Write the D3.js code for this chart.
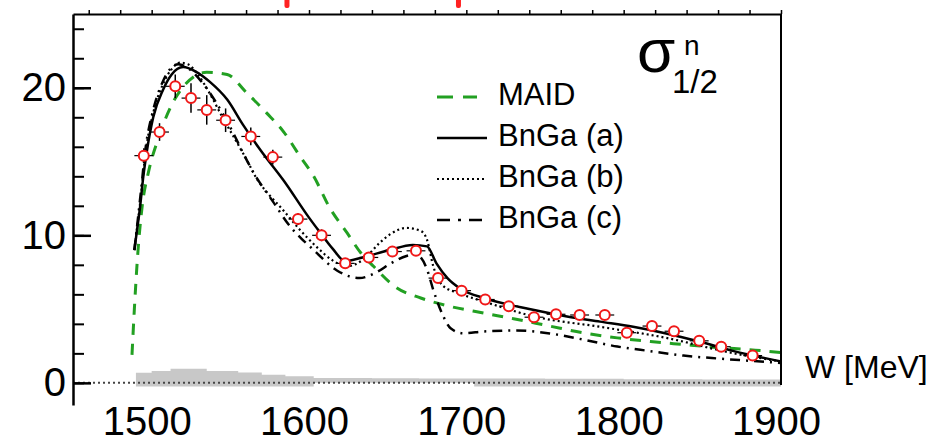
<!DOCTYPE html>
<html>
<head>
<meta charset="utf-8">
<script src="https://cdn.jsdelivr.net/npm/d3@7"></script>
<style>
  body { margin: 0; background: #fff; }
  svg { display: block; font-family: "Liberation Sans", Arial, Helvetica, sans-serif; }
</style>
</head>
<body>
<div id="container"></div>
<script>
// measured cross section sigma^n_1/2 (W in MeV)
const pointW = [1495, 1505, 1515, 1525, 1535, 1547, 1563, 1577, 1593, 1608, 1623, 1638, 1653, 1668,
  1682, 1697, 1712, 1727, 1743, 1757, 1772, 1788, 1802, 1818, 1832, 1848, 1862, 1882]
const pointS = [15.4, 17.0, 20.1, 19.3, 18.5, 17.8, 16.7, 15.3, 11.1, 10.0, 8.1, 8.5, 8.9, 8.95,
  7.1, 6.25, 5.65, 5.2, 4.45, 4.65, 4.6, 4.6, 3.4, 3.85, 3.5, 2.85, 2.45, 1.85]
const pointErr = [0.5, 0.6, 0.8, 1.0, 1.0, 0.8, 0.6, 0.5, 0.4, 0.4, 0.3, 0.3, 0.3, 0.3,
  0.3, 0.25, 0.25, 0.25, 0.2, 0.2, 0.2, 0.2, 0.2, 0.2, 0.2, 0.2, 0.2, 0.2]
const pointWErr = 6

// model curves
const maidW = [1487.5, 1489, 1491, 1494, 1498, 1504, 1513, 1522, 1535, 1548, 1560, 1573, 1584, 1594,
  1603, 1613, 1624, 1633, 1641, 1655, 1671, 1689, 1710, 1730, 1753, 1774, 1796, 1817, 1838, 1857, 1887, 1900]
const maidS = [1.9, 5.0, 8.5, 12.0, 14.3, 16.5, 18.9, 20.3, 21.05, 20.9, 19.7, 18.3, 17.0, 15.4,
  14.0, 11.9, 10.2, 8.8, 7.9, 6.5, 5.75, 5.2, 4.75, 4.35, 3.85, 3.4, 3.05, 2.8, 2.6, 2.42, 2.19, 2.05]

const bngaAW = [1489, 1490.5, 1492.6, 1494.7, 1496.8, 1501, 1507.4, 1512.7, 1520, 1528, 1537, 1548, 1558, 1569,
  1584, 1600, 1607, 1615, 1623, 1634, 1651, 1666, 1675, 1681, 1688, 1696, 1713, 1740, 1764, 1785, 1806, 1827, 1848, 1870, 1900]
const bngaAS = [9.0, 10.2, 11.9, 14.0, 15.6, 18.0, 19.9, 20.9, 21.4, 21.1, 20.4, 19.2, 17.5, 15.8,
  13.7, 11.2, 10.2, 9.1, 8.25, 8.5, 9.0, 9.35, 9.25, 8.1, 7.1, 6.4, 5.7, 5.0, 4.5, 4.15, 3.8, 3.35, 2.8, 2.15, 1.45]

const bngaBW = [1489, 1490.5, 1493, 1496, 1501, 1507, 1513, 1518, 1523, 1530, 1537, 1545, 1552, 1560, 1567,
  1575, 1582, 1594, 1605, 1615, 1624, 1635, 1645, 1652, 1662, 1671, 1675, 1679, 1685, 1696, 1713, 1743, 1785, 1827, 1870, 1900]
const bngaBS = [9.0, 10.3, 12.5, 15.5, 18.3, 20.2, 21.3, 21.7, 21.6, 20.8, 19.6, 18.0, 16.7, 15.2, 13.8,
  12.7, 11.9, 10.4, 9.2, 8.3, 7.9, 8.4, 9.5, 10.1, 10.5, 10.3, 9.7, 7.9, 6.6, 6.05, 5.45, 4.5, 3.8, 3.05, 2.0, 1.45]

const bngaCW = [1489, 1490.5, 1493, 1496, 1501, 1507, 1512, 1517, 1522, 1531, 1541, 1552, 1558, 1565, 1577,
  1588, 1595, 1603, 1618, 1632, 1643, 1652, 1662, 1668, 1675, 1679, 1685, 1690, 1698, 1711, 1732, 1753, 1775,
  1796, 1817, 1838, 1860, 1880, 1900]
const bngaCS = [9.0, 10.4, 12.8, 15.8, 18.5, 20.4, 21.3, 21.6, 21.4, 20.5, 19.0, 16.9, 15.6, 14.2, 12.3,
  10.6, 9.8, 9.0, 7.6, 7.1, 7.5, 8.1, 8.6, 8.7, 7.7, 6.3, 4.6, 3.7, 3.36, 3.48, 3.55, 3.35, 2.92,
  2.46, 2.15, 1.85, 1.65, 1.5, 1.35]

// systematic error band (step edges)
const bandW = [1490, 1500, 1512, 1535, 1555, 1570, 1585, 1603, 1640, 1670, 1705, 1750, 1800, 1850, 1900]
const bandTop = [0.68, 0.8, 0.95, 0.8, 0.7, 0.55, 0.45, 0.33, 0.32, 0.3, 0.3, 0.28, 0.25, 0.22, 0.22]
const bandBottom = [-0.25, -0.25, -0.25, -0.25, -0.25, -0.25, -0.25, 0, 0, 0, -0.25, -0.25, -0.25, -0.25, -0.25]

const xTickLabels = [1500, 1600, 1700, 1800, 1900]
const yTickLabels = [0, 10, 20]
const legendNames = ['MAID', 'BnGa (a)', 'BnGa (b)', 'BnGa (c)']
const cropMarksW = [1586, 1695]

const width = 934
const height = 443
const plotLeft = 73, plotRight = 781, plotTop = 14, plotBottom = 405

const xScale = d3.scaleLinear().domain([1450, 1900]).range([plotLeft, plotRight])
const yScale = d3.scaleLinear().domain([-1.5, 25]).range([plotBottom, plotTop])

const svg = d3.select('#container').append('svg')
  .attr('width', width)
  .attr('height', height)

svg.append('rect').attr('width', width).attr('height', height).attr('fill', '#fff')

// gray band
const band = bandW.map((w, i) => ({w: w, t: bandTop[i], b: bandBottom[i]}))
svg.append('path')
  .datum(band)
  .attr('fill', '#c8c8c8')
  .attr('d', d3.area().curve(d3.curveStepAfter)
    .x(d => xScale(d.w)).y0(d => yScale(d.b)).y1(d => yScale(d.t)))

// zero line
svg.append('line')
  .attr('x1', plotLeft).attr('x2', plotRight)
  .attr('y1', yScale(0)).attr('y2', yScale(0))
  .attr('stroke', '#444').attr('stroke-width', 2)
  .attr('stroke-dasharray', '2,3')

const curves = [
  {name: 'MAID', w: maidW, s: maidS, color: '#22a022', width: 3, dash: '11,9'},
  {name: 'BnGa (a)', w: bngaAW, s: bngaAS, color: '#000', width: 2.5, dash: null},
  {name: 'BnGa (b)', w: bngaBW, s: bngaBS, color: '#000', width: 2.2, dash: '2,3'},
  {name: 'BnGa (c)', w: bngaCW, s: bngaCS, color: '#000', width: 2.5, dash: '10,6,2,6'}
]

const line = d3.line().curve(d3.curveMonotoneX)
  .x(d => xScale(d[0])).y(d => yScale(d[1]))

svg.append('g').selectAll('path')
  .data(curves)
  .enter()
  .append('path')
  .attr('fill', 'none')
  .attr('stroke', d => d.color)
  .attr('stroke-width', d => d.width)
  .attr('stroke-dasharray', d => d.dash)
  .attr('d', d => line(d.w.map((w, i) => [w, d.s[i]])))

// data points with error bars
const points = pointW.map((w, i) => ({w: w, s: pointS[i], e: pointErr[i]}))
const pts = svg.append('g')
pts.selectAll('.ey')
  .data(points).enter().append('line')
  .attr('class', 'ey')
  .attr('x1', d => xScale(d.w)).attr('x2', d => xScale(d.w))
  .attr('y1', d => yScale(d.s - d.e)).attr('y2', d => yScale(d.s + d.e))
  .attr('stroke', '#000').attr('stroke-width', 1.5)
pts.selectAll('.ex')
  .data(points).enter().append('line')
  .attr('class', 'ex')
  .attr('x1', d => xScale(d.w - pointWErr)).attr('x2', d => xScale(d.w + pointWErr))
  .attr('y1', d => yScale(d.s)).attr('y2', d => yScale(d.s))
  .attr('stroke', '#000').attr('stroke-width', 1.2)
pts.selectAll('circle')
  .data(points).enter().append('circle')
  .attr('cx', d => xScale(d.w))
  .attr('cy', d => yScale(d.s))
  .attr('r', 5)
  .attr('fill', '#fff')
  .attr('stroke', '#f01818')
  .attr('stroke-width', 2)

// axes
const yMinor = d3.range(0, 25, 2)
svg.append('g')
  .attr('transform', `translate(${plotLeft},0)`)
  .call(d3.axisLeft(yScale).tickValues(yMinor).tickSize(-11).tickSizeOuter(0).tickFormat(''))
  .call(g => g.select('.domain').attr('stroke-width', 2.5))
  .call(g => g.selectAll('.tick line').attr('stroke-width', 2))

svg.append('g')
  .attr('transform', `translate(${plotLeft},0)`)
  .call(d3.axisLeft(yScale).tickValues(yTickLabels).tickSize(-18).tickSizeOuter(0).tickPadding(7))
  .call(g => g.select('.domain').remove())
  .call(g => g.selectAll('.tick line').attr('stroke-width', 2.5))
  .call(g => g.selectAll('text').attr('font-size', 40).attr('font-family', null).attr('fill', '#000'))

svg.append('g')
  .attr('transform', `translate(0,${plotTop})`)
  .call(d3.axisTop(xScale).tickValues(d3.range(1460, 1901, 20)).tickSize(4).tickSizeOuter(0).tickFormat(''))
  .call(g => g.select('.domain').attr('stroke-width', 2))
  .call(g => g.selectAll('.tick line').attr('stroke-width', 1.5))

svg.append('g')
  .attr('transform', `translate(0,${plotBottom})`)
  .call(d3.axisBottom(xScale).tickValues(xTickLabels).tickSize(0).tickPadding(2).tickFormat(d3.format('d')))
  .call(g => g.select('.domain').remove())
  .call(g => g.selectAll('text').attr('font-size', 40).attr('font-family', null).attr('fill', '#000').attr('dx', -5))

// right frame
svg.append('line')
  .attr('x1', xScale(1900)).attr('x2', xScale(1900))
  .attr('y1', plotTop).attr('y2', yScale(-0.15))
  .attr('stroke', '#000').attr('stroke-width', 2)

// cropped red marks from the panel above
svg.selectAll('.crop')
  .data(cropMarksW).enter().append('rect')
  .attr('x', d => xScale(d) - 2.5).attr('y', -3)
  .attr('width', 5).attr('height', 11).attr('rx', 2)
  .attr('fill', '#f22')

// axis title
svg.append('text')
  .attr('x', 805).attr('y', 378)
  .attr('font-size', 32)
  .text('W [MeV]')

// observable label
svg.append('text').attr('x', 637).attr('y', 72).attr('font-size', 62).text('σ')
svg.append('text').attr('x', 684).attr('y', 55).attr('font-size', 28).text('n')
svg.append('text').attr('x', 672).attr('y', 93).attr('font-size', 33).text('1/2')

// legend
const legend = svg.append('g').attr('transform', 'translate(437,105)')
const rows = legend.selectAll('g')
  .data(curves).enter().append('g')
  .attr('transform', (d, i) => `translate(0,${i * 41})`)
rows.append('line')
  .attr('x1', 0).attr('x2', d => d.name === 'MAID' ? 40 : 50)
  .attr('y1', -8).attr('y2', -8)
  .attr('stroke', d => d.color)
  .attr('stroke-width', d => d.width)
  .attr('stroke-dasharray', (d, i) => i === 0 ? '16,10' : i === 3 ? '13,8,3,8' : d.dash)
rows.append('text')
  .attr('x', 61)
  .attr('font-size', 31)
  .text((d, i) => legendNames[i])
</script>
</body>
</html>
